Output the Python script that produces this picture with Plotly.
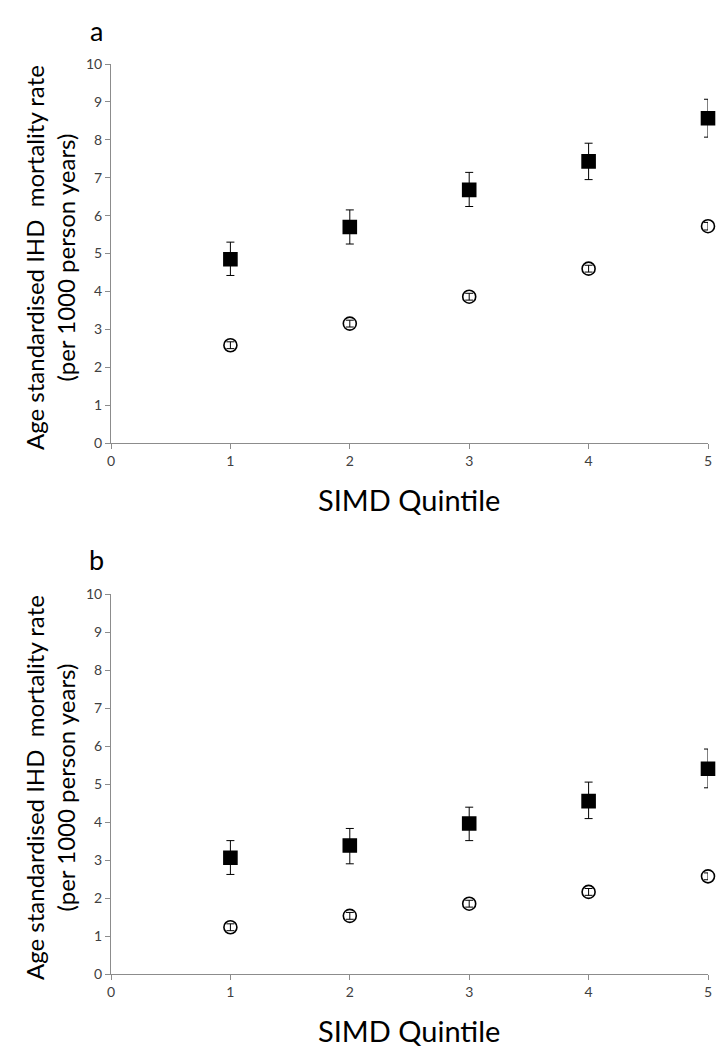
import plotly.graph_objects as go

quintiles = [1, 2, 3, 4, 5]

# Panel a
a_sq = [4.85, 5.70, 6.68, 7.43, 8.57]
a_sq_lo = [4.42, 5.25, 6.24, 6.95, 8.07]
a_sq_hi = [5.30, 6.15, 7.14, 7.91, 9.07]
a_ci = [2.58, 3.15, 3.86, 4.60, 5.72]
a_ci_lo = [2.49, 3.06, 3.77, 4.51, 5.62]
a_ci_hi = [2.67, 3.24, 3.95, 4.69, 5.82]

# Panel b
b_sq = [3.06, 3.38, 3.96, 4.55, 5.40]
b_sq_lo = [2.62, 2.90, 3.51, 4.09, 4.90]
b_sq_hi = [3.51, 3.83, 4.39, 5.05, 5.92]
b_ci = [1.23, 1.53, 1.85, 2.16, 2.57]
b_ci_lo = [1.14, 1.44, 1.76, 2.07, 2.48]
b_ci_hi = [1.32, 1.62, 1.94, 2.25, 2.66]

x_ticks = [0, 1, 2, 3, 4, 5]
y_ticks = [0, 1, 2, 3, 4, 5, 6, 7, 8, 9, 10]

FONT = "Lato"
W, H = 724, 1049

fig = go.Figure()


def add_series(x, y, lo, hi, symbol, xa, ya):
    fig.add_trace(go.Scatter(
        x=x, y=y, mode="markers", xaxis=xa, yaxis=ya,
        marker=dict(symbol=symbol, size=13, color="black",
                    line=dict(color="black", width=1.6)),
        error_y=dict(type="data", symmetric=False,
                     array=[h - v for h, v in zip(hi, y)],
                     arrayminus=[v - l for v, l in zip(y, lo)],
                     color="black", thickness=1, width=4),
        cliponaxis=False, showlegend=False,
    ))


add_series(quintiles, a_sq, a_sq_lo, a_sq_hi, "square", "x", "y")
add_series(quintiles, a_ci, a_ci_lo, a_ci_hi, "circle-open", "x", "y")
add_series(quintiles, b_sq, b_sq_lo, b_sq_hi, "square", "x2", "y2")
add_series(quintiles, b_ci, b_ci_lo, b_ci_hi, "circle-open", "x2", "y2")

x0, x1 = 103 / W, 700 / W
top_dom = [1 - 435 / H, 1 - 56 / H]
bot_dom = [1 - 966 / H, 1 - 586 / H]

axis_common = dict(showgrid=False, zeroline=False, showline=True,
                   linecolor="#8c8c8c", linewidth=1, ticks="outside",
                   ticklen=5, tickcolor="#8c8c8c", automargin=False,
                   tickfont=dict(family=FONT, size=14, color="#404040"))

fig.update_layout(
    width=W, height=H, margin=dict(l=0, r=0, t=0, b=0),
    paper_bgcolor="white", plot_bgcolor="white",
    xaxis=dict(domain=[x0, x1], range=[0, 5], tickvals=x_ticks, anchor="y", **axis_common),
    yaxis=dict(domain=top_dom, range=[0, 10], tickvals=y_ticks, anchor="x", **axis_common),
    xaxis2=dict(domain=[x0, x1], range=[0, 5], tickvals=x_ticks, anchor="y2", **axis_common),
    yaxis2=dict(domain=bot_dom, range=[0, 10], tickvals=y_ticks, anchor="x2", **axis_common),
)

ytitle = "Age standardised IHD  mortality rate<br>(per 1000 person years)"
for yc in (250, 780):
    fig.add_annotation(text=ytitle, textangle=-90, x=42 / W, y=1 - yc / H,
                       xref="paper", yref="paper", xanchor="center", yanchor="middle",
                       showarrow=False, font=dict(family=FONT, size=24, color="black"))

for yc in (491, 1022):
    fig.add_annotation(text="SIMD Quintile", x=401 / W, y=1 - yc / H,
                       xref="paper", yref="paper", xanchor="center", yanchor="middle",
                       showarrow=False, font=dict(family=FONT, size=29, color="black"))

fig.add_annotation(text="a", x=88 / W, y=1 - 22 / H, xref="paper", yref="paper",
                   xanchor="center", yanchor="middle",
                   showarrow=False, font=dict(family=FONT, size=27, color="black"))
fig.add_annotation(text="b", x=88 / W, y=1 - 552 / H, xref="paper", yref="paper",
                   xanchor="center", yanchor="middle",
                   showarrow=False, font=dict(family=FONT, size=27, color="black"))

fig.write_html("out.html")
